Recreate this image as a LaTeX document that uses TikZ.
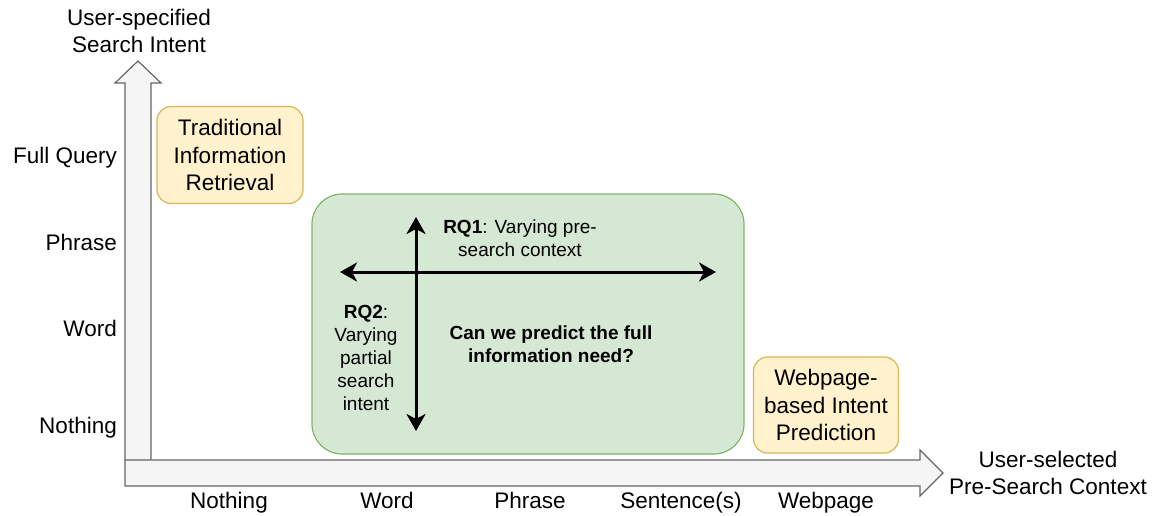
\documentclass[tikz,border=0pt]{standalone}
\usepackage{fontspec}
\setmainfont{Liberation Sans}
\usepackage{xcolor}
\usepackage{tikz}
\usetikzlibrary{
	arrows.meta,
	shapes,
}
\definecolor{axisfill}{HTML}{F5F5F5}
\definecolor{axisline}{HTML}{666666}
\definecolor{rqfill}{HTML}{D5E8D4}
\definecolor{rqline}{HTML}{82B366}
\definecolor{notefill}{HTML}{FFF2CC}
\definecolor{noteline}{HTML}{D6B656}
\tikzset{
	axislabel/.style={font=\fontsize{22.5}{27}\selectfont, align=center, inner sep=0pt},
	ticklabel/.style={font=\fontsize{22.5}{27}\selectfont, inner sep=0pt},
	notebox/.style={draw=noteline, fill=notefill, line width=1.2pt, rounded corners=14pt, align=center,
		font=\fontsize{22.5}{27.5}\selectfont, inner sep=0pt},
	rqtext/.style={font=\fontsize{19}{23}\selectfont, align=center, inner sep=0pt},
	rqarrow/.style={line width=3pt, {Stealth[length=17pt,width=19pt,inset=5pt]}-{Stealth[length=17pt,width=19pt,inset=5pt]}},
}

\begin{document}
\begin{tikzpicture}[x=1pt, y=-1pt]
	\useasboundingbox (0,0) rectangle (1156,516);

	% axes
	\draw[draw=axisline, fill=axisfill, line width=1.2pt] (125,460) -- (125,83) -- (115,83) -- (138,61) -- (161,83) -- (151,83) -- (151,460);
	\draw[draw=axisline, fill=axisfill, line width=1.2pt] (125,460) -- (920,460) -- (920,450) -- (943,473) -- (920,496) -- (920,486) -- (125,486) -- cycle;

	\node[axislabel] (ytitle) at (139,31) {User-specified\\Search Intent};
	\node[axislabel] (xtitle) at (1048,473) {User-selected\\Pre-Search Context};

	\node[ticklabel, anchor=base east] (yfull) at (117,164) {Full Query};
	\node[ticklabel, anchor=base east] (yphrase) at (117,250) {Phrase};
	\node[ticklabel, anchor=base east] (yword) at (117,336) {Word};
	\node[ticklabel, anchor=base east] (ynothing) at (117,433) {Nothing};

	\node[ticklabel, anchor=base] (xnothing) at (229,508) {Nothing};
	\node[ticklabel, anchor=base] (xword) at (387,508) {Word};
	\node[ticklabel, anchor=base] (xphrase) at (530,508) {Phrase};
	\node[ticklabel, anchor=base] (xsentence) at (681,508) {Sentence(s)};
	\node[ticklabel, anchor=base] (xwebpage) at (826,508) {Webpage};

	% boxes
	\node[notebox, minimum width=146pt, minimum height=97pt] (tradir) at (230,155) {Traditional\\Information\\Retrieval};
	\node[notebox, minimum width=145pt, minimum height=96pt] (webintent) at (826,405) {Webpage-\\based Intent\\Prediction};

	\node[draw=rqline, fill=rqfill, line width=1.2pt, rounded corners=30pt, minimum width=432pt, minimum height=260pt] (rqbox) at (528,324) {};

	% research questions
	\coordinate (ctxleft) at (340,272);
	\coordinate (ctxright) at (716,272);
	\coordinate (inttop) at (416,217);
	\coordinate (intbottom) at (416,431);
	\draw[rqarrow] (ctxleft) -- (ctxright);
	\draw[rqarrow] (inttop) -- (intbottom);

	\node[rqtext] (rqone) at (520,238) {\textbf{RQ1}: Varying pre-\\search context};
	\node[rqtext] (rqtwo) at (366,358) {\textbf{RQ2}:\\Varying\\partial\\search\\intent};
	\node[rqtext, font=\fontsize{19}{23}\selectfont\bfseries] (fullneed) at (551,344) {Can we predict the full\\information need?};
\end{tikzpicture}
\end{document}
